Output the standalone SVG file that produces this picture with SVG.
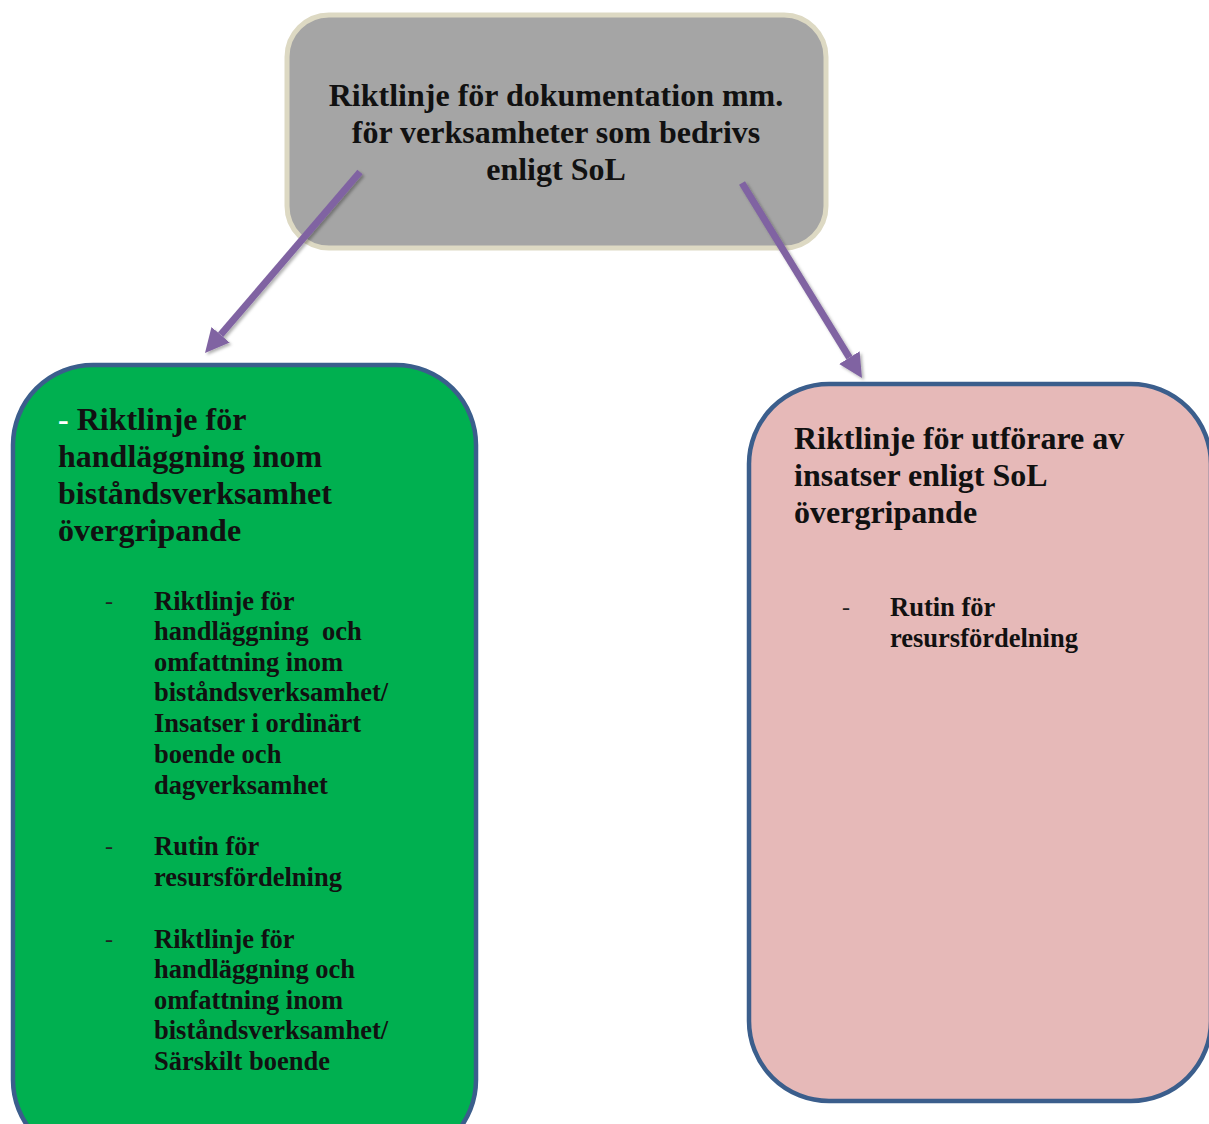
<svg xmlns="http://www.w3.org/2000/svg" width="1209" height="1124" viewBox="0 0 1209 1124">
<style>
.t{font-family:"Liberation Serif","Times New Roman",serif;font-weight:bold;fill:#111}
.big{font-size:32px}
.sm{font-size:26.5px}
.dash{font-family:"Liberation Serif","Times New Roman",serif;font-size:24px;fill:#222}
.box{stroke:#3b5e8c;stroke-width:4.5}
.arrow{stroke:#8064a2;stroke-width:7;fill:none}
</style>
<defs>
<marker id="ah" markerUnits="userSpaceOnUse" markerWidth="24" markerHeight="26" viewBox="0 0 10 10" refX="0" refY="5" orient="auto">
<path d="M0,0 L10,5 L0,10 z" fill="#8064a2"/>
</marker>
<filter id="sh" x="-20%" y="-20%" width="140%" height="140%">
<feDropShadow dx="2" dy="2" stdDeviation="1.5" flood-color="#000" flood-opacity="0.3"/>
</filter>
</defs>
<rect width="1209" height="1124" fill="#fff"/>
<g id="top">
<rect x="287" y="15" width="539" height="233" rx="42" ry="42" fill="#a5a5a5" stroke="#ddd9c3" stroke-width="5"/>
<text class="t big" text-anchor="middle" x="556" y="106">Riktlinje för dokumentation mm.</text>
<text class="t big" text-anchor="middle" x="556" y="143">för verksamheter som bedrivs</text>
<text class="t big" text-anchor="middle" x="556" y="180">enligt SoL</text>
</g>
<g id="left">
<rect x="13" y="365" width="463" height="795" rx="80" ry="80" fill="#00b050" class="box"/>
<text class="t big" x="58" y="430"><tspan fill="#fff">-</tspan> Riktlinje för</text>
<text class="t big" x="58" y="467">handläggning inom</text>
<text class="t big" x="58" y="504">biståndsverksamhet</text>
<text class="t big" x="58" y="541">övergripande</text>
<text class="dash" x="105" y="609">-</text>
<text class="t sm" x="154" y="610">Riktlinje för</text>
<text class="t sm" x="154" y="640" xml:space="preserve">handläggning  och</text>
<text class="t sm" x="154" y="671">omfattning inom</text>
<text class="t sm" x="154" y="701">biståndsverksamhet/</text>
<text class="t sm" x="154" y="732">Insatser i ordinärt</text>
<text class="t sm" x="154" y="763">boende och</text>
<text class="t sm" x="154" y="794">dagverksamhet</text>
<text class="dash" x="105" y="854">-</text>
<text class="t sm" x="154" y="855">Rutin för</text>
<text class="t sm" x="154" y="886">resursfördelning</text>
<text class="dash" x="105" y="947">-</text>
<text class="t sm" x="154" y="948">Riktlinje för</text>
<text class="t sm" x="154" y="978">handläggning och</text>
<text class="t sm" x="154" y="1009">omfattning inom</text>
<text class="t sm" x="154" y="1039">biståndsverksamhet/</text>
<text class="t sm" x="154" y="1070">Särskilt boende</text>
</g>
<g id="right">
<rect x="749" y="384" width="462" height="717" rx="80" ry="80" fill="#e6b9b8" class="box"/>
<text class="t big" x="794" y="449">Riktlinje för utförare av</text>
<text class="t big" x="794" y="486">insatser enligt SoL</text>
<text class="t big" x="794" y="523">övergripande</text>
<text class="dash" x="842" y="615">-</text>
<text class="t sm" x="890" y="616">Rutin för</text>
<text class="t sm" x="890" y="647">resursfördelning</text>
</g>
<g id="connectors" filter="url(#sh)">
<line class="arrow" x1="360" y1="172" x2="220.6" y2="334.8" marker-end="url(#ah)"/>
<line class="arrow" x1="742" y1="183" x2="849.4" y2="357.6" marker-end="url(#ah)"/>
</g>
</svg>
